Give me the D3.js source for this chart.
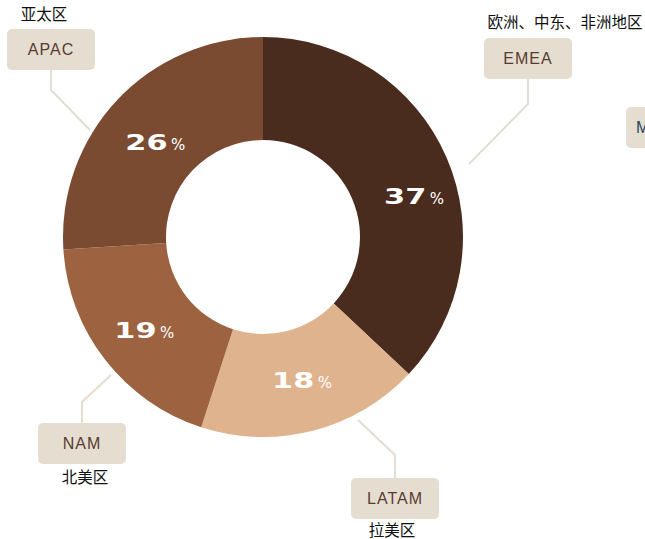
<!DOCTYPE html>
<html>
<head>
<meta charset="utf-8">
<script src="https://cdn.jsdelivr.net/npm/d3@7"></script>
<style>
  body { margin: 0; background: #fff; }
  svg { display: block; }
</style>
</head>
<body>
<div id="chart"></div>
<script>
// Chart data
const regions = ['EMEA', 'LATAM', 'NAM', 'APAC'];
const regionNames = ['欧洲、中东、非洲地区', '拉美区', '北美区', '亚太区'];
const shares = [37, 18, 19, 26];
const colors = ['#4a2c1e', '#dfb38e', '#9d6240', '#7a4b31'];

const width = 645, height = 539;
const cx = 263, cy = 237;
const outerR = 200, innerR = 97;

// label box layout (box centre, leader elbow, leader end) - not data
const labelLayout = {
  EMEA:  { box: [528, 58],  elbow: [528, 104], end: [469, 164], name: [565, 23],  below: false },
  LATAM: { box: [395, 498], elbow: [395, 455], end: [358, 420], name: [392, 531], below: true },
  NAM:   { box: [82, 443],  elbow: [82, 402],  end: [111, 375], name: [85, 478],  below: true },
  APAC:  { box: [51, 49],   elbow: [51, 90],   end: [90, 130],  name: [44, 15],   below: false }
};
// nudge for the percent text (EMEA sits a little lower than the centroid)
const pctNudge = { EMEA: [33, 18], LATAM: [20, 0], NAM: [16, 2], APAC: [18, 6] };

const svg = d3.select('#chart').append('svg')
  .attr('width', width)
  .attr('height', height);

const pie = d3.pie().value(d => d.value).sort(null);
const arc = d3.arc().innerRadius(innerR).outerRadius(outerR);
const midArc = d3.arc().innerRadius(148).outerRadius(148);

const data = regions.map((r, i) => ({ region: r, value: shares[i], color: colors[i], name: regionNames[i] }));
const arcs = pie(data);

const g = svg.append('g').attr('transform', 'translate(' + cx + ',' + cy + ')');

g.selectAll('path.slice')
  .data(arcs)
  .enter()
  .append('path')
  .attr('class', 'slice')
  .attr('d', arc)
  .attr('fill', d => d.data.color);

// percent labels
const pct = g.selectAll('g.pct')
  .data(arcs)
  .enter()
  .append('g')
  .attr('class', 'pct')
  .attr('transform', d => {
    const c = midArc.centroid(d);
    const n = pctNudge[d.data.region];
    return 'translate(' + (c[0] + n[0]) + ',' + (c[1] + n[1]) + ')';
  });

pct.append('text')
  .attr('x', -4)
  .attr('y', 8)
  .attr('text-anchor', 'end')
  .attr('transform', 'scale(1.38,1)')
  .attr('font-family', 'DejaVu Sans, sans-serif')
  .attr('font-weight', 'bold')
  .attr('font-size', 22)
  .attr('fill', '#fff')
  .text(d => d.data.value);

pct.append('text')
  .attr('x', -2)
  .attr('y', 8)
  .attr('font-family', 'DejaVu Sans, sans-serif')
  .attr('font-size', 15)
  .attr('fill', '#fff')
  .text('%');

// leader lines
const lines = svg.append('g');
data.forEach(d => {
  const L = labelLayout[d.region];
  lines.append('polyline')
    .attr('points', [L.box[0] + ',' + (L.box[1] + (L.below ? -20 : 20)), L.elbow.join(','), L.end.join(',')].join(' '))
    .attr('fill', 'none')
    .attr('stroke', '#e4ddd1')
    .attr('stroke-width', 2);
});

// label boxes
const boxes = svg.selectAll('g.box')
  .data(data)
  .enter()
  .append('g')
  .attr('class', 'box')
  .attr('transform', d => 'translate(' + labelLayout[d.region].box.join(',') + ')');

boxes.append('rect')
  .attr('x', -44)
  .attr('y', -20)
  .attr('width', 88)
  .attr('height', 41)
  .attr('rx', 5)
  .attr('fill', '#e5ddd0');

boxes.append('text')
  .attr('text-anchor', 'middle')
  .attr('y', 6)
  .attr('font-family', 'Liberation Sans, Arial, sans-serif')
  .attr('font-size', 16)
  .attr('letter-spacing', 1)
  .attr('fill', '#583c2f')
  .text(d => d.region);

svg.selectAll('text.name')
  .data(data)
  .enter()
  .append('text')
  .attr('class', 'name')
  .attr('x', d => labelLayout[d.region].name[0])
  .attr('y', d => labelLayout[d.region].name[1])
  .attr('dy', '0.35em')
  .attr('text-anchor', 'middle')
  .attr('font-family', 'Noto Sans CJK SC, sans-serif')
  .attr('font-size', 15.5)
  .attr('fill', '#111')
  .text(d => d.name);

// box at the right edge, cut off by the frame as in the original
const edge = svg.append('g').attr('transform', 'translate(626,107)');
edge.append('rect')
  .attr('width', 60)
  .attr('height', 41)
  .attr('rx', 5)
  .attr('fill', '#e5ddd0');
edge.append('text')
  .attr('x', 10)
  .attr('y', 26)
  .attr('font-family', 'Liberation Sans, Arial, sans-serif')
  .attr('font-size', 16)
  .attr('fill', '#2a4560')
  .text('M');
</script>
</body>
</html>
